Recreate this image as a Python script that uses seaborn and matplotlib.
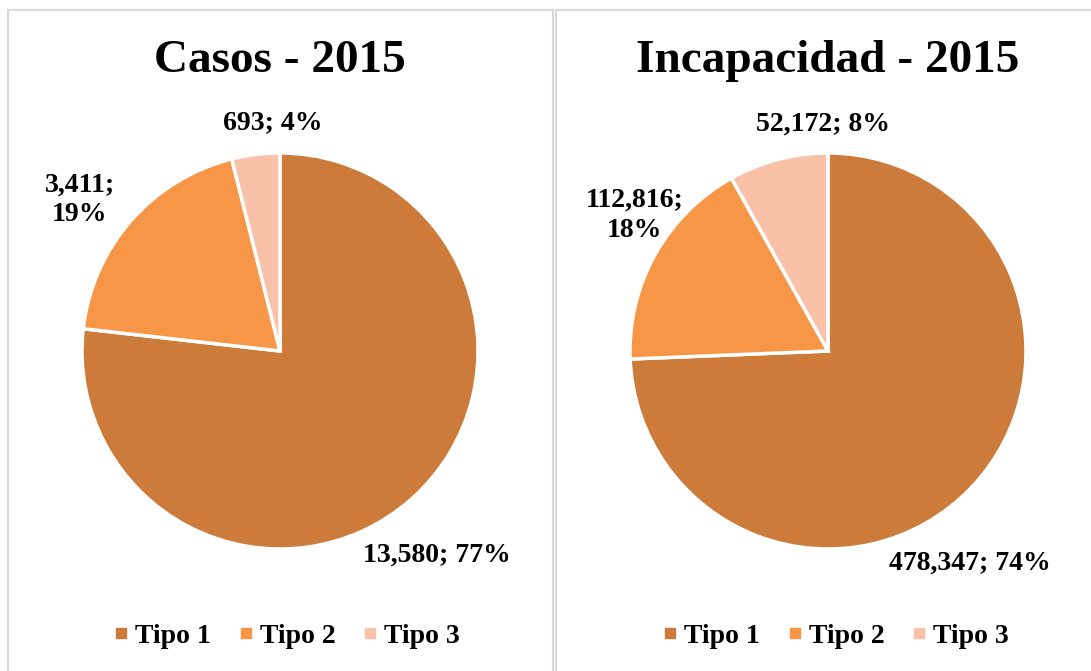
import numpy as np
import matplotlib
matplotlib.use('Agg')
import matplotlib.pyplot as plt
from matplotlib.patches import Rectangle
from matplotlib.lines import Line2D
import seaborn as sns

# Data
categories = ['Tipo 1', 'Tipo 2', 'Tipo 3']
casos_2015 = [13580, 3411, 693]
incapacidad_2015 = [478347, 112816, 52172]
titles = ['Casos - 2015', 'Incapacidad - 2015']

colors = ['#CD7B3A', '#F79646', '#F9C1A8']

sns.set_theme(style='white')
plt.rcParams['font.family'] = ['Liberation Serif', 'DejaVu Serif']
plt.rcParams['font.weight'] = 'bold'
plt.rcParams['text.color'] = 'black'

fig = plt.figure(figsize=(10.91, 6.71), dpi=100)
W, H = 1091, 671

# panel borders (pixels)
for x0, x1 in [(8, 553), (556, 1100)]:
    fig.patches.append(Rectangle((x0 / W, -0.05), (x1 - x0) / W, 1.05 - 10 / H,
                                 transform=fig.transFigure, fill=False,
                                 edgecolor='#d9d9d9', linewidth=1.5))

# label offsets in points relative to wedge rim midpoint
offsets = [
    [(18, -41), (-37, 15), (12, 23)],
    [(-1, -54), (-15, 28), (32, 25)],
]
two_line = [1]  # Tipo 2 label wraps

centers = [280, 828]
radius = 198
cy = 351

for i, (vals, title) in enumerate(zip([casos_2015, incapacidad_2015], titles)):
    cx = centers[i]
    ax = fig.add_axes([(cx - radius) / W, (H - cy - radius) / H,
                       2 * radius / W, 2 * radius / H])
    wedges, _ = ax.pie(vals, colors=colors, startangle=90, counterclock=False,
                       wedgeprops=dict(edgecolor='white', linewidth=2.5))
    ax.set_xlim(-1, 1)
    ax.set_ylim(-1, 1)
    ax.set_aspect('equal')
    ax.axis('off')

    total = sum(vals)
    for j, w in enumerate(wedges):
        mid = np.deg2rad((w.theta1 + w.theta2) / 2)
        pct = round(100 * vals[j] / total)
        sep = ';\n' if j in two_line else '; '
        txt = f'{vals[j]:,}{sep}{pct}%'
        ax.annotate(txt, xy=(np.cos(mid), np.sin(mid)), xytext=offsets[i][j],
                    textcoords='offset points', ha='center', va='center',
                    fontsize=20, fontweight='bold', color='black',
                    multialignment='center', linespacing=1.25)

    fig.text(cx / W, 1 - 61 / H, title, ha='center', va='center',
             fontsize=34, fontweight='bold', color='black')

    handles = [Line2D([], [], marker='s', linestyle='', color=c, markersize=6.5)
               for c in colors]
    mid_x = 287 if i == 0 else 836
    fig.legend(handles, categories, loc='center', ncol=3,
               bbox_to_anchor=(mid_x / W, 1 - 636 / H), frameon=False,
               prop=dict(size=20, weight='bold'), handlelength=0.5,
               handletextpad=0.25, columnspacing=1.0)

fig.savefig('out.png', dpi=100)
